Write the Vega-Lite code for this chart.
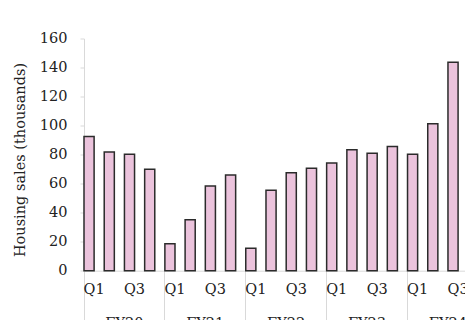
{
  "$schema": "https://vega.github.io/schema/vega-lite/v6.json",
  "autosize": {"type": "none"},
  "padding": {"left": 84, "top": 38.5, "right": 0, "bottom": 49.3},
  "width": 381,
  "height": 232.2,
  "background": "white",
  "data": {
    "values": [
      {"key": "FY20 Q1", "sales": 92.5},
      {"key": "FY20 Q2", "sales": 81.8},
      {"key": "FY20 Q3", "sales": 80.2},
      {"key": "FY20 Q4", "sales": 69.9},
      {"key": "FY21 Q1", "sales": 18.6},
      {"key": "FY21 Q2", "sales": 35.1},
      {"key": "FY21 Q3", "sales": 58.4},
      {"key": "FY21 Q4", "sales": 66.0},
      {"key": "FY22 Q1", "sales": 15.4},
      {"key": "FY22 Q2", "sales": 55.4},
      {"key": "FY22 Q3", "sales": 67.5},
      {"key": "FY22 Q4", "sales": 70.6},
      {"key": "FY23 Q1", "sales": 74.2},
      {"key": "FY23 Q2", "sales": 83.4},
      {"key": "FY23 Q3", "sales": 80.9},
      {"key": "FY23 Q4", "sales": 85.5},
      {"key": "FY24 Q1", "sales": 80.2},
      {"key": "FY24 Q2", "sales": 101.3},
      {"key": "FY24 Q3", "sales": 143.6}
    ]
  },
  "mark": {
    "type": "bar",
    "fill": "#ebc3dc",
    "stroke": "#2b2b2b",
    "strokeWidth": 1.5
  },
  "encoding": {
    "x": {
      "field": "key",
      "type": "ordinal",
      "sort": null,
      "scale": {
        "domain": [
          "FY20 Q1", "FY20 Q2", "FY20 Q3", "FY20 Q4",
          "FY21 Q1", "FY21 Q2", "FY21 Q3", "FY21 Q4",
          "FY22 Q1", "FY22 Q2", "FY22 Q3", "FY22 Q4",
          "FY23 Q1", "FY23 Q2", "FY23 Q3", "FY23 Q4",
          "FY24 Q1", "FY24 Q2", "FY24 Q3", "FY24 Q4"
        ],
        "range": [0, 394.3],
        "paddingInner": 0.5,
        "paddingOuter": 0
      },
      "axis": {
        "title": null,
        "domainColor": "#d9d9d9",
        "domainWidth": 1,
        "bandPosition": 0,
        "ticks": true,
        "tickSize": 55,
        "tickColor": "#d9d9d9",
        "tickWidth": 1,
        "tickOpacity": {"condition": {"test": "slice(datum.value, 5) == 'Q1'", "value": 1}, "value": 0},
        "labelExpr": "slice(datum.value, 5) == 'Q1' || slice(datum.value, 5) == 'Q3' ? slice(datum.value, 5) : (slice(datum.value, 5) == 'Q2' ? slice(datum.value, 0, 4) : '')",
        "labelAngle": 0,
        "labelAlign": "center",
        "labelBaseline": "top",
        "labelOffset": {"condition": {"test": "slice(datum.value, 5) == 'Q2'", "value": 15.1}, "value": 5.05},
        "labelPadding": {"condition": {"test": "slice(datum.value, 5) == 'Q2'", "value": -9}, "value": -43},
        "labelFont": "DejaVu Serif",
        "labelFontSize": 14.5,
        "labelColor": "#222222",
        "labelOverlap": false
      }
    },
    "y": {
      "field": "sales",
      "type": "quantitative",
      "scale": {"domain": [0, 160], "nice": false},
      "axis": {
        "title": "Housing sales (thousands)",
        "titleFont": "DejaVu Serif",
        "titleFontSize": 14.5,
        "titleFontWeight": "normal",
        "titleColor": "#222222",
        "titlePadding": 12,
        "titleY": 121,
        "values": [0, 20, 40, 60, 80, 100, 120, 140, 160],
        "grid": false,
        "domainColor": "#d9d9d9",
        "tickColor": "#d9d9d9",
        "tickSize": 4,
        "labelPadding": 13,
        "labelFont": "DejaVu Serif",
        "labelFontSize": 14.5,
        "labelColor": "#222222"
      }
    }
  },
  "config": {"view": {"stroke": null}}
}
